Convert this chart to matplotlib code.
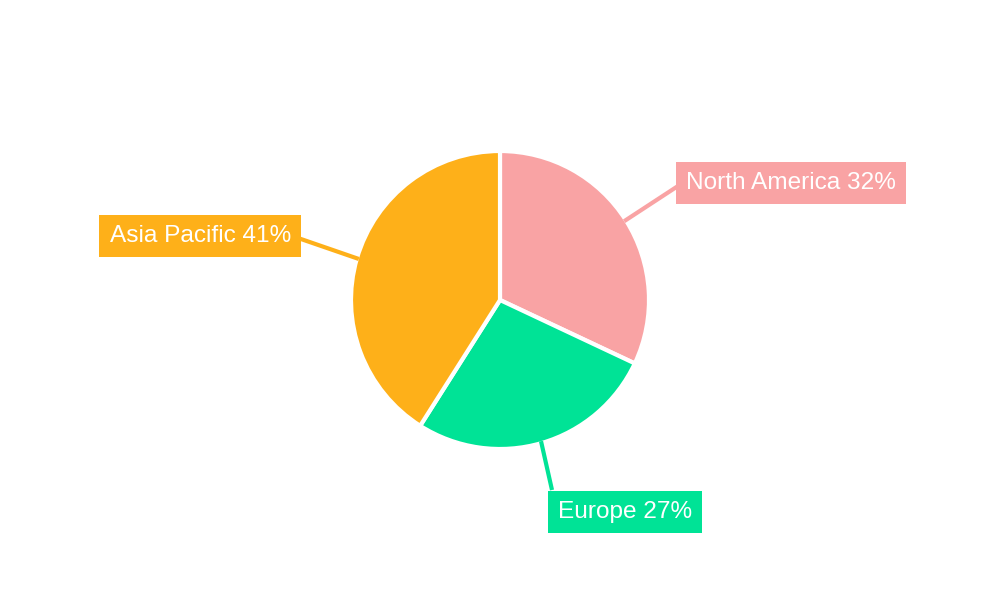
import matplotlib
matplotlib.use("Agg")
import matplotlib.pyplot as plt
import numpy as np

categories = ["North America", "Europe", "Asia Pacific"]
values = [32, 27, 41]
colors = ["#F9A3A4", "#00E396", "#FEB019"]

plt.rcParams['font.family'] = ['Liberation Sans', 'DejaVu Sans']
fig = plt.figure(figsize=(10, 6), dpi=100)
ax = fig.add_axes([0, 0, 1, 1])
ax.set_xlim(0, 1000)
ax.set_ylim(0, 600)
ax.set_aspect('equal')
ax.axis('off')

cx, cy, r = 500, 300, 149
ax.pie(values, colors=colors, center=(cx, cy), radius=r, startangle=90,
       counterclock=False, wedgeprops=dict(edgecolor='white', linewidth=3))
ax.set_xlim(0, 1000); ax.set_ylim(0, 600)

ends = [(678, 600 - 186), (552, 600 - 490), (298, 600 - 238)]
texts = [(686, 600 - 183, 'left'), (558, 600 - 512, 'left'), (291, 600 - 236, 'right')]
tot = sum(values)
cum = 0
for cat, v, c, (ex, ey), (tx, ty, ha) in zip(categories, values, colors, ends, texts):
    mid = 90 - (cum + v / 2) / tot * 360
    cum += v
    px = cx + (r - 2) * np.cos(np.radians(mid))
    py = cy + (r - 2) * np.sin(np.radians(mid))
    ax.plot([px, ex], [py, ey], color=c, lw=3, solid_capstyle='butt')
    ax.text(tx, ty, f"{cat} {v}%", color='white', fontsize=17.6, ha=ha, va='center',
            bbox=dict(boxstyle='square,pad=0.42', fc=c, ec='none'))

fig.savefig("out.png", dpi=100, facecolor='white')
